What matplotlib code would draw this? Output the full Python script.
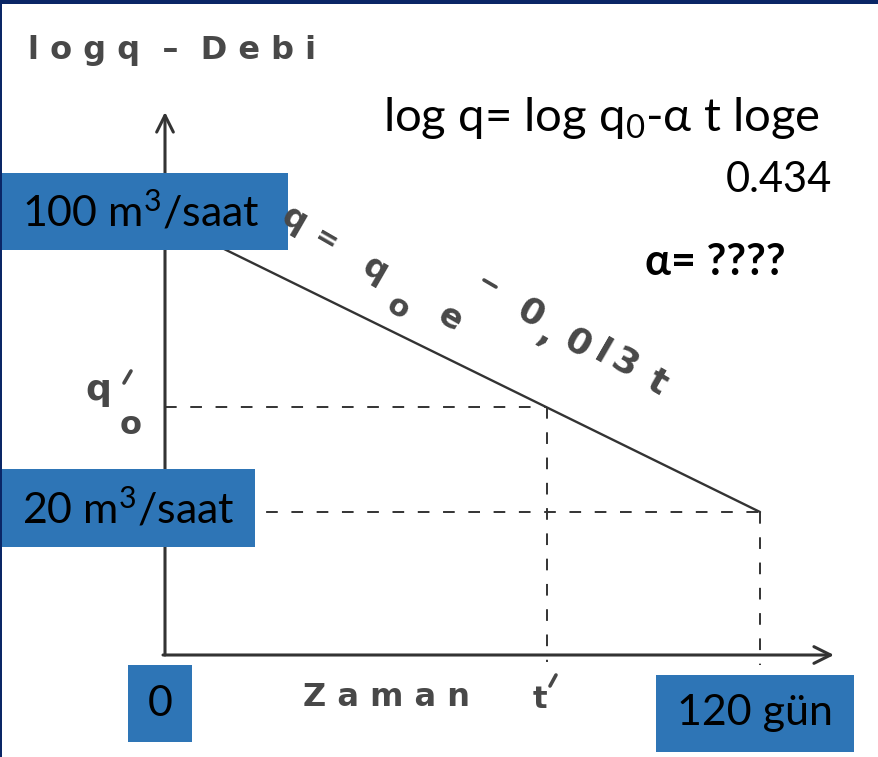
import numpy as np
import matplotlib.pyplot as plt
from matplotlib.patches import Rectangle

# Debi azalma eğrisi, q = q0 * e^(-a t), yarı-logaritmik eksende
t_gun = [0, 120]          # zaman (gün)
q_debi = [100, 20]        # debi (m3/saat)
t_prime = 77              # t'
q_prime = 35.6            # q'0

W, H = 879, 757
BLUE = "#2e75b6"
NAVY = "#0a2666"
INK = "#333333"
SCAN = "#484848"

plt.rcParams["mathtext.fontset"] = "custom"
plt.rcParams["mathtext.rm"] = "Lato"
plt.rcParams["mathtext.it"] = "Lato:italic"

# pixel positions of t=0, t=120 and of q=100, q=20 on the sheet
px_t0, px_t120 = 165, 760
px_q100, px_q20 = 220, 512

t_per_px = (t_gun[1] - t_gun[0]) / (px_t120 - px_t0)
dec_per_px = (np.log10(q_debi[0]) - np.log10(q_debi[1])) / (px_q20 - px_q100)


def px_t(px):
    return t_gun[0] + (px - px_t0) * t_per_px


def px_q(py):
    return 10 ** (np.log10(q_debi[1]) + (px_q20 - py) * dec_per_px)


fig = plt.figure(figsize=(W / 100, H / 100), dpi=100)
fig.patch.set_facecolor("white")

ax = fig.add_axes([0, 0, 1, 1])
ax.set_yscale("log")
ax.set_xlim(px_t(0), px_t(W))
ax.set_ylim(px_q(H), px_q(0))
ax.axis("off")

q_axis = px_q(655)

# axes with arrow heads
ax.annotate("", xy=(0, px_q(112)), xytext=(0, q_axis),
            arrowprops=dict(arrowstyle="->", color=INK, lw=2.2,
                            mutation_scale=30, shrinkA=0, shrinkB=0))
ax.annotate("", xy=(px_t(834), q_axis), xytext=(px_t(163), q_axis),
            arrowprops=dict(arrowstyle="->", color=INK, lw=2.2,
                            mutation_scale=30, shrinkA=0, shrinkB=0))

# recession line
ax.plot(t_gun, q_debi, color=INK, lw=1.7, solid_capstyle="round")

# guide lines
dash = dict(color=INK, lw=1.4, linestyle=(0, (6, 7)))
ax.plot([0, t_prime], [q_prime, q_prime], **dash)
ax.plot([t_prime, t_prime], [q_prime, px_q(662)], **dash)
ax.plot([0, t_gun[1]], [q_debi[1], q_debi[1]], **dash)
ax.plot([t_gun[1], t_gun[1]], [q_debi[1], px_q(665)], **dash)

# overlay in sheet pixels for the labels
deco = fig.add_axes([0, 0, 1, 1])
deco.set_xlim(0, W)
deco.set_ylim(H, 0)
deco.axis("off")
deco.patch.set_alpha(0)

deco.add_patch(Rectangle((0, 0), W, 4, color=NAVY, lw=0))
deco.add_patch(Rectangle((0, 0), 2.5, H, color=NAVY, lw=0))

# scanned handwriting-like labels
hand = dict(color=SCAN, fontweight="bold", family="DejaVu Sans")
stroke = dict(color=SCAN, lw=2.6, solid_capstyle="round")
deco.text(28, 50, "l o g q  –  D e b i", fontsize=23, ha="left", va="center", **hand)
deco.text(303, 697, "Z a m a n", fontsize=23, ha="left", va="center", **hand)
deco.text(540, 699, "t", fontsize=22, ha="center", va="center", **hand)
deco.plot([550, 556], [686, 675], **stroke)
deco.text(98, 390, "q", fontsize=26, ha="center", va="center", **hand)
deco.plot([124, 131], [383, 371], **stroke)
deco.text(131, 425, "o", fontsize=23, ha="center", va="center", **hand)

# formula written along the line
rot = dict(rotation=-30, rotation_mode="anchor", ha="center", va="center", **hand)
deco.text(294, 220, "q", fontsize=24, **rot)
deco.text(326, 240, "=", fontsize=20, **rot)
deco.text(375, 270, "q", fontsize=24, **rot)
deco.text(398, 308, "o", fontsize=22, **rot)
deco.text(450, 318, "e", fontsize=24, **rot)
deco.plot([484, 496], [280, 287], **stroke)
for ch, x, y in [("0", 530, 313), (",", 546, 334), ("0", 577, 343),
                 ("l", 602, 353), ("3", 625, 363), ("t", 657, 383)]:
    deco.text(x, y, ch, fontsize=26, **rot)

# typed formula
font = ["Lato", "DejaVu Sans"]
deco.text(383, 118, "log q= log q$_0$-α t loge", fontsize=34, family=font,
          ha="left", va="center", color="black")
deco.text(832, 180, "0.434", fontsize=30, family=font, ha="right",
          va="center", color="black")
deco.text(645, 262, "α= ????", fontsize=31, family=font, fontweight="bold",
          ha="left", va="center", color="black")

# value boxes
boxes = [
    ((2, 173, 286, 77), f"{q_debi[0]} m$^3$/saat", 22, "left"),
    ((2, 469, 253, 78), f"{q_debi[1]} m$^3$/saat", 22, "left"),
    ((128, 665, 64, 77), f"{t_gun[0]}", 160, "center"),
    ((656, 675, 198, 77), f"{t_gun[1]} gün", 755, "center"),
]
for (bx, by, bw, bh), label, tx, align in boxes:
    deco.add_patch(Rectangle((bx, by), bw, bh, color=BLUE, lw=0))
    deco.text(tx, by + bh / 2, label, fontsize=31, family=font,
              ha=align, va="center", color="black")

fig.savefig("out.png", dpi=100)
